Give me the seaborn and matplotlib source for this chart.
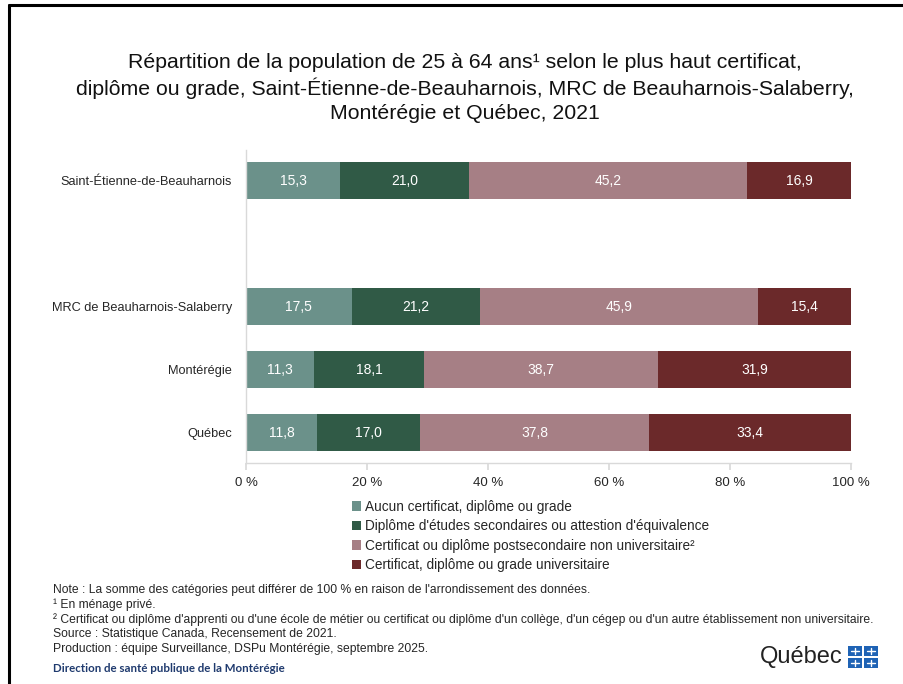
import numpy as np
import pandas as pd
import matplotlib
matplotlib.use("Agg")
import matplotlib.pyplot as plt
from matplotlib.patches import Patch, Rectangle
from matplotlib.lines import Line2D
import seaborn as sns

# Data
regions = ["Saint-Étienne-de-Beauharnois", "MRC de Beauharnois-Salaberry", "Montérégie", "Québec"]
categories = ["Aucun certificat, diplôme ou grade",
              "Diplôme d'études secondaires ou attestion d'équivalence",
              "Certificat ou diplôme postsecondaire non universitaire²",
              "Certificat, diplôme ou grade universitaire"]
aucun = [15.3, 17.5, 11.3, 11.8]
secondaire = [21.0, 21.2, 18.1, 17.0]
postsec = [45.2, 45.9, 38.7, 37.8]
universitaire = [16.9, 15.4, 31.9, 33.4]
x_ticks = [0, 20, 40, 60, 80, 100]
colors = ["#6B918A", "#305A46", "#A67F85", "#6B292A"]

title = ("Répartition de la population de 25 à 64 ans¹ selon le plus haut certificat,\n"
         "diplôme ou grade, Saint-Étienne-de-Beauharnois, MRC de Beauharnois-Salaberry,\n"
         "Montérégie et Québec, 2021")
notes = ["Note : La somme des catégories peut différer de 100 % en raison de l'arrondissement des données.",
         "¹ En ménage privé.",
         "² Certificat ou diplôme d'apprenti ou d'une école de métier ou certificat ou diplôme d'un collège, d'un cégep ou d'un autre établissement non universitaire.",
         "Source : Statistique Canada, Recensement de 2021.",
         "Production : équipe Surveillance, DSPu Montérégie, septembre 2025."]

# Blank slot between the municipality and the larger regions
order = [regions[0], "", regions[1], regions[2], regions[3]]

df = pd.DataFrame({"region": regions, "c0": aucun, "c1": secondaire, "c2": postsec, "c3": universitaire})
cols = ["c0", "c1", "c2", "c3"]
share = df[cols].div(df[cols].sum(axis=1), axis=0) * 100  # 100 % stacked
cum = share.cumsum(axis=1)
plot_df = pd.concat([df[["region"]], cum.add_prefix("cum_")], axis=1)

sns.set_theme(style="white")
plt.rcParams["font.family"] = ["Liberation Sans", "DejaVu Sans"]

fig = plt.figure(figsize=(9.04, 6.84), dpi=100)
ax = fig.add_axes([0.2721, 0.3231, 0.6693, 0.4576])

for i in reversed(range(4)):
    sns.barplot(data=plot_df, x="cum_" + cols[i], y="region", order=order, orient="h",
                color=colors[i], saturation=1, width=0.59, errorbar=None,
                edgecolor="none", linewidth=0, ax=ax)

# Segment labels
for r, region in enumerate(regions):
    pos = order.index(region)
    for i, c in enumerate(cols):
        center = cum.loc[r, c] - share.loc[r, c] / 2
        ax.text(center, pos, f"{df.loc[r, c]:.1f}".replace(".", ","), ha="center", va="center",
                color="white", fontsize=10)

ax.set_xlim(0, 100)
ax.set_ylim(4.48, -0.49)
ax.set_xticks(x_ticks)
ax.set_xticklabels([f"{t} %" for t in x_ticks])
ax.set_xlabel("")
ax.set_ylabel("")
for s in ["top", "right"]:
    ax.spines[s].set_visible(False)
for s in ["left", "bottom"]:
    ax.spines[s].set_color("#D9D9D9")
    ax.spines[s].set_linewidth(1)
ax.tick_params(axis="x", bottom=True, direction="out", length=5, color="#D9D9D9",
               labelsize=9.5, labelcolor="#262626", pad=5)
ax.tick_params(axis="y", left=False, length=0, labelsize=9.2, labelcolor="#262626", pad=10)

# Legend
handles = [Patch(facecolor=colors[i], edgecolor="none") for i in range(4)]
fig.legend(handles, categories, loc="upper left", bbox_to_anchor=(0.389, 0.269),
           frameon=False, fontsize=9.8, handlelength=0.7, handleheight=0.7,
           handletextpad=0.3, labelspacing=0.4, borderpad=0, borderaxespad=0)

# Title
fig.text(0.514, 1 - 88 / 684, title, ha="center", va="center", fontsize=15.3,
         linespacing=1.33, color="#111111")

# Notes
for k, line in enumerate(notes):
    fig.text(0.0586, 1 - (590 + 14.7 * k) / 684, line, ha="left", va="center",
             fontsize=8.7, color="#262626")
fig.text(0.0586, 1 - 668 / 684, "Direction de santé publique de la Montérégie", ha="left",
         va="center", fontsize=8.3, family=["Lato", "DejaVu Sans"], weight="bold", color="#1F3A6E")

# Québec signature
fig.text(0.932, 1 - 657 / 684, "Québec", ha="right", va="center", fontsize=17,
         family=["Liberation Sans", "DejaVu Sans"], color="#222222")
for dx in (0, 1):
    for dy in (0, 1):
        x0 = (848 + dx * 16) / 904
        y0 = 1 - (656 + dy * 12) / 684
        fig.add_artist(Rectangle((x0, y0), 14 / 904, 10 / 684, transform=fig.transFigure,
                                 facecolor="#1F63B5", edgecolor="none"))
        fig.add_artist(Line2D([x0 + 3 / 904, x0 + 11 / 904], [y0 + 5 / 684] * 2,
                              transform=fig.transFigure, color="white", lw=1))
        fig.add_artist(Line2D([x0 + 7 / 904] * 2, [y0 + 2 / 684, y0 + 8 / 684],
                              transform=fig.transFigure, color="white", lw=1))

# Slide frame (left and top edges)
fig.add_artist(Line2D([9 / 904, 9 / 904], [0, 1 - 5 / 684], transform=fig.transFigure,
                      color="black", lw=2.2))
fig.add_artist(Line2D([9 / 904, 1], [1 - 5 / 684, 1 - 5 / 684], transform=fig.transFigure,
                      color="black", lw=2.2))

fig.savefig("out.png", dpi=100)
